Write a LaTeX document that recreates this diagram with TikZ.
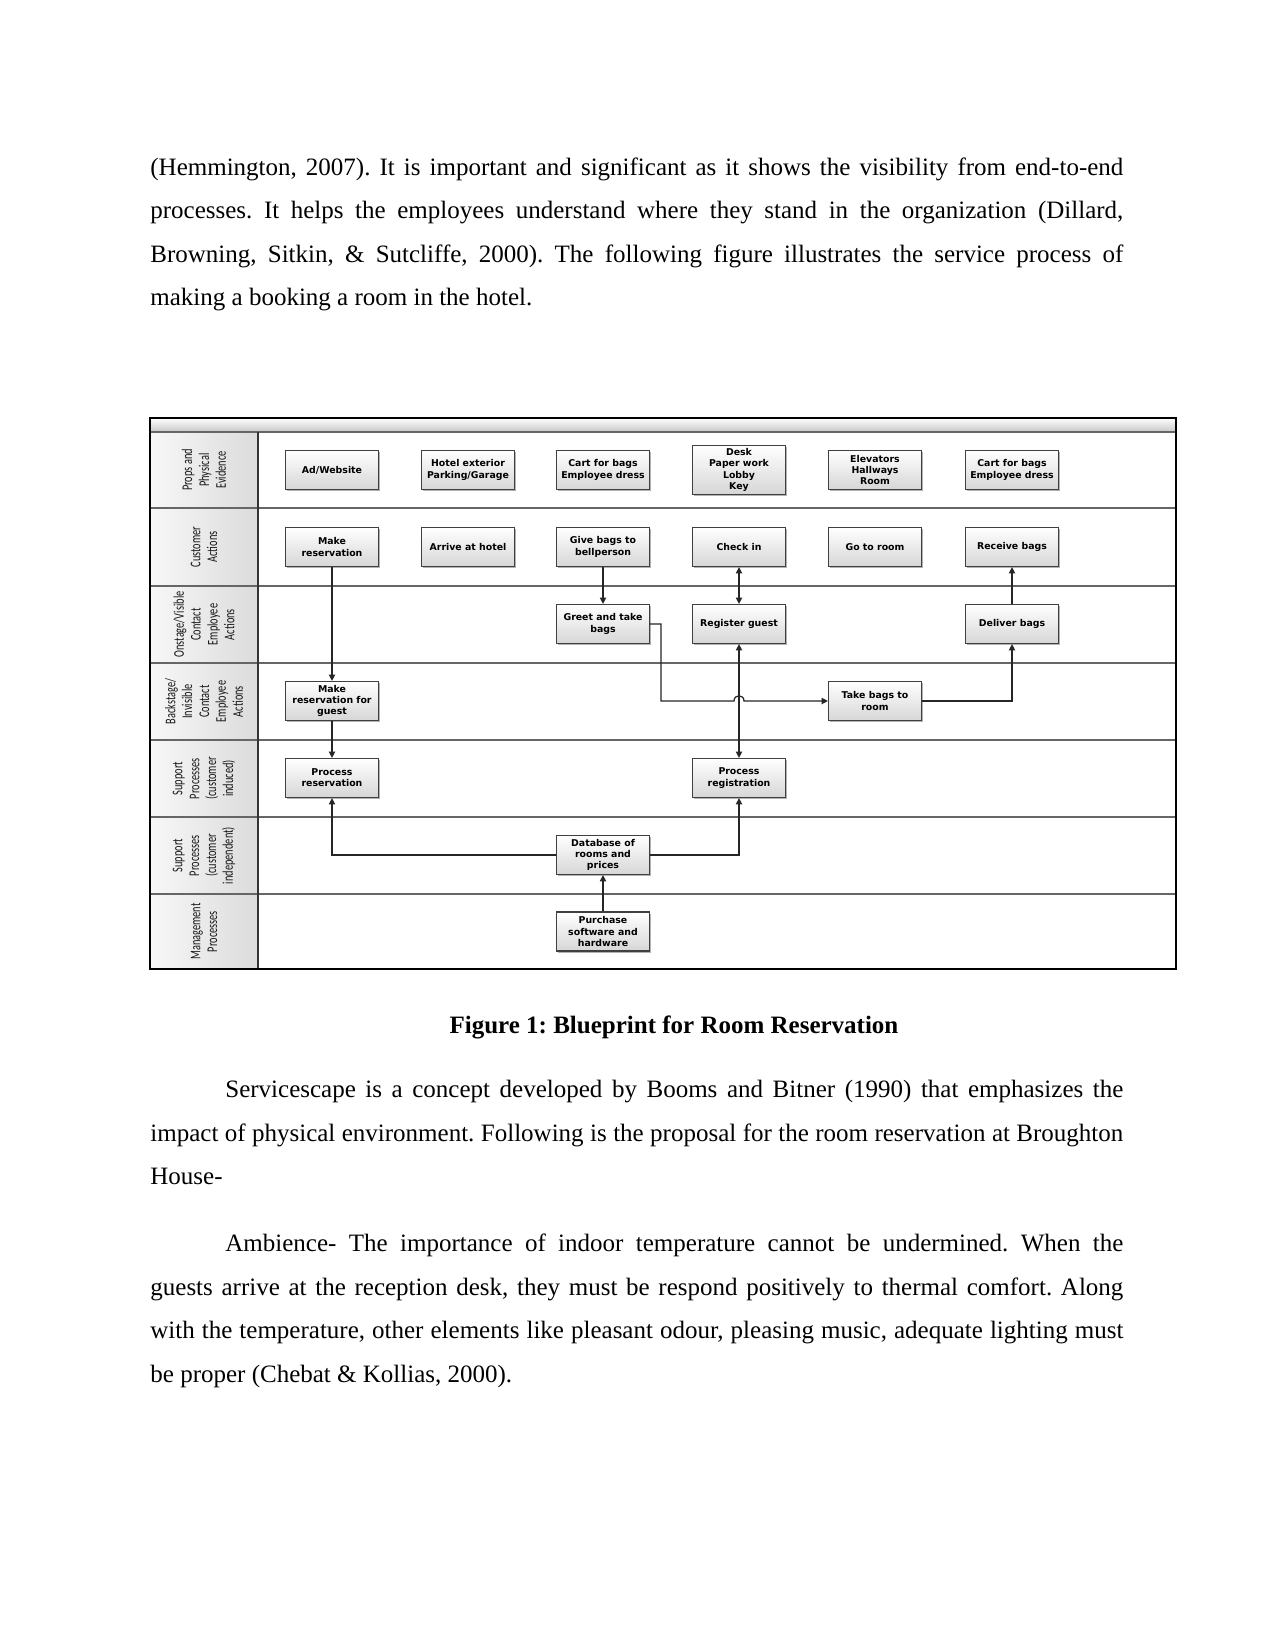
\documentclass[tikz,border=0pt]{standalone}
\usepackage{fontspec}
\setmainfont{Liberation Serif}
\newfontfamily\boxfont{DejaVu Sans}
\newfontfamily\lblfont[FakeStretch=0.7]{Carlito}
\usetikzlibrary{arrows.meta,shadows,calc}
\frenchspacing
\tikzset{
  body/.style={anchor=base west, inner sep=0pt, font=\fontsize{12}{14}\selectfont},
  bx/.style={draw=black!75, line width=0.6pt, top color=white, bottom color=black!16,
    minimum width=44.6pt, minimum height=18.7pt, inner sep=0pt, align=center,
    font=\boxfont\bfseries\fontsize{4.5}{5.4}\selectfont,
    general shadow={fill=black!30, shadow xshift=0.9pt, shadow yshift=-0.9pt}},
  lbl/.style={rotate=90, align=center, inner sep=0pt, text=black!90, font=\lblfont\fontsize{7.1}{8.1}\selectfont},
  rowline/.style={draw=black!60, line width=0.8pt},
  arr/.style={draw=black!85, line width=0.6pt, -{Triangle[length=3pt,width=3pt]}},
  darr/.style={draw=black!85, line width=0.6pt, {Triangle[length=3pt,width=3pt]}-{Triangle[length=3pt,width=3pt]}},
  conn/.style={draw=black!85, line width=0.6pt}
}
\begin{document}
\begin{tikzpicture}[x=0.48pt,y=-0.48pt]
\useasboundingbox (0,0) rectangle (1275,1651);
\fill[white] (0,0) rectangle (1275,1651);

% ---------- body text ----------
\node[body] (a1) at (150,175.5) {\makebox[467pt][s]{(Hemmington, 2007). It is important and significant as it shows the visibility from end-to-end}};
\node[body] (a2) at (150,218.5) {\makebox[467pt][s]{processes. It helps the employees understand where they stand in the organization (Dillard,}};
\node[body] (a3) at (150,262) {\makebox[467pt][s]{Browning, Sitkin, \& Sutcliffe, 2000). The following figure illustrates the service process of}};
\node[body] (a4) at (150,305.5) {making a booking a room in the hotel.};

\node[anchor=base, inner sep=0pt, font=\fontsize{12}{14}\selectfont\bfseries] (cap) at (674,1033) {Figure 1: Blueprint for Room Reservation};

\node[body] (b1) at (225,1097.5) {\makebox[431pt][s]{Servicescape is a concept developed by Booms and Bitner (1990) that emphasizes the}};
\node[body] (b2) at (150,1141) {\makebox[467pt][s]{impact of physical environment. Following is the proposal for the room reservation at Broughton}};
\node[body] (b3) at (150,1184) {House-};

\node[body] (c1) at (225,1251) {\makebox[431pt][s]{Ambience- The importance of indoor temperature cannot be undermined. When the}};
\node[body] (c2) at (150,1295) {\makebox[467pt][s]{guests arrive at the reception desk, they must be respond positively to thermal comfort. Along}};
\node[body] (c3) at (150,1338.5) {\makebox[467pt][s]{with the temperature, other elements like pleasant odour, pleasing music, adequate lighting must}};
\node[body] (c4) at (150,1382) {be proper (Chebat \& Kollias, 2000).};

% ---------- figure frame ----------
\shade[top color=white, bottom color=black!22] (150,418) rectangle (1176,432);
\foreach \t/\b in {432/508,508/586,586/663,663/740,740/817,817/894,894/969}{
  \shade[left color=black!3, right color=black!14] (150,\t) rectangle (258,\b);
}
\draw[rowline] (150,432) -- (1176,432);
\foreach \yy in {508,586,663,740,817,894}{
  \draw[rowline] (150,\yy) -- (1176,\yy);
}
\draw[black!80, line width=0.8pt] (258,432) -- (258,969);
\draw[black, line width=1.1pt] (150,418) rectangle (1176,969);

% ---------- lane labels ----------
\node[lbl] (l1) at (204,470) {Props and\\Physical\\Evidence};
\node[lbl] (l2) at (204,547) {Customer\\Actions};
\node[lbl] (l3) at (204,624.5) {Onstage/Visible\\Contact\\Employee\\Actions};
\node[lbl] (l4) at (204,701.5) {Backstage/\\Invisible\\Contact\\Employee\\Actions};
\node[lbl] (l5) at (204,778.5) {Support\\Processes\\(customer\\induced)};
\node[lbl] (l6) at (204,855.5) {Support\\Processes\\(customer\\independent)};
\node[lbl] (l7) at (204,931.5) {Management\\Processes};

% ---------- boxes ----------
\node[bx] (ad)  at (332,470) {Ad/Website};
\node[bx] (he)  at (468,470) {Hotel exterior\\Parking/Garage};
\node[bx] (cb1) at (603,470) {Cart for bags\\Employee dress};
\node[bx, minimum height=23.5pt] (dk) at (739,470) {Desk\\Paper work\\Lobby\\Key};
\node[bx] (el)  at (875,470) {Elevators\\Hallways\\Room};
\node[bx] (cb2) at (1012,470) {Cart for bags\\Employee dress};

\node[bx] (mr)  at (332,547) {Make\\reservation};
\node[bx] (ah)  at (468,547) {Arrive at hotel};
\node[bx] (gb)  at (603,547) {Give bags to\\bellperson};
\node[bx] (ci)  at (739,547) {Check in};
\node[bx] (gr)  at (875,547) {Go to room};
\node[bx] (rb)  at (1012,547) {Receive bags};

\node[bx] (gt)  at (603,624) {Greet and take\\bags};
\node[bx] (rg)  at (739,624) {Register guest};
\node[bx] (db)  at (1012,624) {Deliver bags};

\node[bx] (mrg) at (332,701) {Make\\reservation for\\guest};
\node[bx] (tb)  at (875,701) {Take bags to\\room};

\node[bx] (pr)  at (332,778) {Process\\reservation};
\node[bx] (prg) at (739,778) {Process\\registration};

\node[bx] (dbase) at (603,855) {Database of\\rooms and\\prices};
\node[bx] (pur)   at (603,931.5) {Purchase\\software and\\hardware};

% ---------- connectors ----------
\coordinate (k1) at (661,624);
\coordinate (k2) at (661,701);
\coordinate (h1) at (734,701);
\coordinate (h2) at (744,701);

\draw[arr] (mr.south) -- (mrg.north);
\draw[arr] (mrg.south) -- (pr.north);
\draw[arr] (gb.south) -- (gt.north);
\draw[darr] (ci.south) -- (rg.north);
\draw[darr] (rg.south) -- (prg.north);
\draw[arr] (gt.east) -- (k1) -- (k2) -- (h1) .. controls ($(h1)+(0,-7)$) and ($(h2)+(0,-7)$) .. (h2) -- (tb.west);
\draw[arr] (tb.east) -| (db.south);
\draw[arr] (db.north) -- (rb.south);
\draw[arr] (dbase.west) -| (pr.south);
\draw[arr] (dbase.east) -| (prg.south);
\draw[arr] (pur.north) -- (dbase.south);
\end{tikzpicture}
\end{document}
